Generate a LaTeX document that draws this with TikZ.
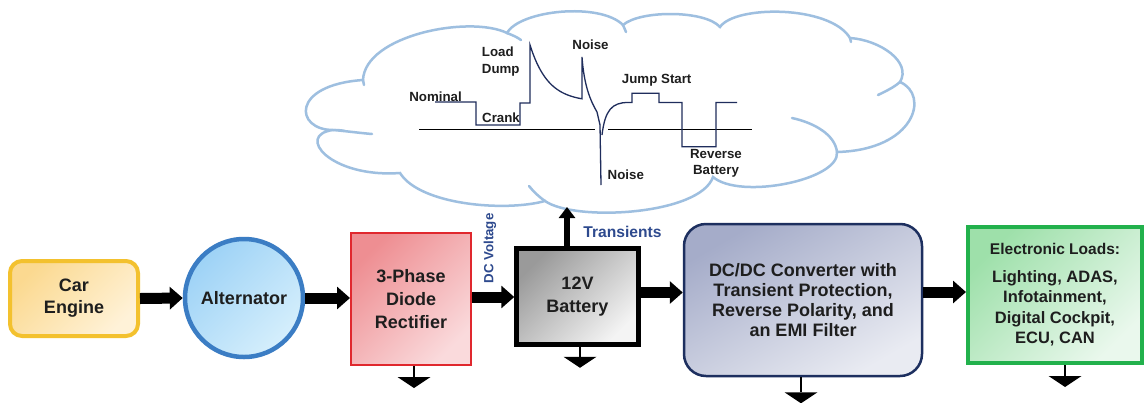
\documentclass[tikz,border=0pt]{standalone}
\usepackage{fontspec}
\setmainfont{Liberation Sans}
\usetikzlibrary{arrows.meta,calc}
\definecolor{txt}{HTML}{1E1E1E}
\definecolor{lblue}{HTML}{2E4A8E}
\definecolor{cloudc}{HTML}{9EBFE0}
\definecolor{wavec}{HTML}{1F2D5C}
\definecolor{engB}{HTML}{F3C12E}
\definecolor{engA}{HTML}{FBD990}
\definecolor{engC}{HTML}{FFF2D8}
\definecolor{altB}{HTML}{3B7DC4}
\definecolor{altA}{HTML}{9DD2F6}
\definecolor{altC}{HTML}{D6EFFC}
\definecolor{recB}{HTML}{E0282E}
\definecolor{recA}{HTML}{EE8E92}
\definecolor{recC}{HTML}{FADADC}
\definecolor{batA}{HTML}{9A9A9A}
\definecolor{batC}{HTML}{F4F4F4}
\definecolor{dcB}{HTML}{1D2F5F}
\definecolor{dcA}{HTML}{A5ACC9}
\definecolor{dcC}{HTML}{E9EBF2}
\definecolor{ldB}{HTML}{22B14C}
\definecolor{ldA}{HTML}{9EE0AA}
\definecolor{ldC}{HTML}{EAF8ED}
\tikzset{
  blk/.style={draw, align=center, inner sep=0pt, text=txt,
    font=\fontsize{18}{22}\selectfont\bfseries},
  bigarrow/.style={line width=11pt, -{Triangle[width=22pt,length=13pt]}},
  smallarrow/.style={line width=5.5pt, -{Triangle[width=16pt,length=11pt]}},
  cloudline/.style={draw=cloudc, line width=2.5pt, line cap=round},
  wave/.style={draw=wavec, line width=1.3pt, line join=miter},
  wlab/.style={inner sep=0pt, text=txt, font=\fontsize{13.3}{16.7}\selectfont\bfseries},
  blab/.style={inner sep=0pt, text=lblue, font=\fontsize{15.6}{18}\selectfont\bfseries},
  pics/gnd/.style={code={
    \draw[line width=2pt] (0,0) -- (0,#1);
    \fill (-16.5,#1) -- (16.5,#1) -- (0,#1+11) -- cycle;}}
}
\begin{document}
\begin{tikzpicture}[x=1pt,y=-1pt]
\useasboundingbox (0,0) rectangle (1145,402);
\fill[white] (0,0) rectangle (1145,402);

% cloud
\path[cloudline, fill=white]
  (333,130) .. controls (295,130) and (290,85) .. (363,80)
  .. controls (365,35) and (470,15) .. (507,33)
  .. controls (520,10) and (600,2) .. (623,25)
  .. controls (640,10) and (705,10) .. (720,27)
  .. controls (735,5) and (830,5) .. (850,38)
  .. controls (880,40) and (912,62) .. (900,82)
  .. controls (930,95) and (915,150) .. (837,152)
  .. controls (840,180) and (740,200) .. (713,177)
  .. controls (700,215) and (575,222) .. (545,201)
  .. controls (505,212) and (420,205) .. (400,173)
  .. controls (330,178) and (295,135) .. (333,130) -- cycle;
\draw[cloudline] (333,130) .. controls (345,131) and (360,133) .. (372,134);
\draw[cloudline] (507,33) .. controls (512,35) and (517,37) .. (521,40);
\draw[cloudline] (837,152) .. controls (835,135) and (815,123) .. (792,118);
\draw[cloudline] (900,82) .. controls (893,88) and (886,91) .. (878,95);
\draw[cloudline] (545,201) .. controls (538,196) and (533,191) .. (529,186);
\draw[cloudline] (623,25) -- (626,32);
\draw[cloudline] (850,38) -- (851,42);
\draw[cloudline] (363,80) -- (364,85);

% axis
\draw[line width=1.6pt] (419,129.3) -- (595,129.3);
\draw[line width=1.6pt] (608,129.3) -- (752,129.3);
% waveform
\draw[wave] (435,102) -- (476,102) -- (476,125) -- (520,125) -- (520,103) -- (530,103) -- (530,45)
  -- plot[domain=0:52, samples=40] ({530+\x},{102-57*exp(-\x/18)})
  -- (582,57) .. controls (584,85) and (590,100) .. (597,112) -- (600,125) -- (601,185);
\draw[wave] (602,135) .. controls (605,110) and (612,102.5) .. (628,102.5)
  -- (632,102.5) -- (632,93.3) -- (659,93.3) -- (659,102.5) -- (682,102.5)
  -- (682,146.7) -- (716,146.7) -- (716,102.5) -- (737,102.5);

% waveform labels
\node[wlab] (lnom) at (435.5,96.7) {Nominal};
\node[wlab, align=left, anchor=west] (lld) at (481.7,61.7) {Load\\Dump};
\node[wlab] (lcr) at (501,117.3) {Crank};
\node[wlab] (ln1) at (590.5,45) {Noise};
\node[wlab] (ljs) at (656.7,80) {Jump Start};
\node[wlab] (ln2) at (625.8,175) {Noise};
\node[wlab, align=center] (lrb) at (716,163.3) {Reverse\\Battery};

% blocks
\node[blk, draw=engB, line width=4pt, rounded corners=12pt, minimum width=128pt, minimum height=75pt,
  top color=engA, bottom color=engC, shading angle=45] (eng) at (74,298.5) {Car\\Engine};
\node[blk, circle, draw=altB, line width=4.5pt, minimum size=118pt,
  top color=altA, bottom color=altC, shading angle=45] (alt) at (244,298) {Alternator};
\node[blk, draw=recB, line width=2pt, minimum width=120pt, minimum height=132pt,
  font=\fontsize{18}{23}\selectfont\bfseries,
  top color=recA, bottom color=recC, shading angle=45] (rect) at (411,299) {3-Phase\\Diode\\Rectifier};
\node[blk, draw=black, line width=4.5pt, minimum width=122pt, minimum height=96pt,
  font=\fontsize{18}{23}\selectfont\bfseries,
  top color=batA, bottom color=batC, shading angle=45] (batt) at (577.5,296.5) {12V\\Battery};
\node[blk, draw=dcB, line width=2.5pt, rounded corners=22pt, minimum width=238pt, minimum height=152pt,
  font=\fontsize{18}{20}\selectfont\bfseries,
  top color=dcA, bottom color=dcC, shading angle=30] (dcdc) at (803,300)
  {DC/DC Converter with\\Transient Protection,\\Reverse Polarity, and\\an EMI Filter};
\node[blk, draw=ldB, line width=4pt, minimum width=174pt, minimum height=136pt,
  font=\fontsize{16.5}{20.5}\selectfont\bfseries,
  top color=ldA, bottom color=ldC, shading angle=45] (loads) at (1055,295)
  {{\fontsize{15.5}{18}\selectfont Electronic Loads:}\\[7pt]Lighting, ADAS,\\Infotainment,\\Digital Cockpit,\\ECU, CAN};

% arrows
\draw[bigarrow] (eng.east) -- (alt.west);
\draw[bigarrow] (alt.east) -- (alt.east -| rect.west);
\draw[bigarrow] ([yshift=2pt]rect.east) -- ([yshift=2pt]rect.east -| batt.west);
\draw[bigarrow] ([yshift=4pt]batt.east) -- ([yshift=4pt]batt.east -| dcdc.west);
\draw[bigarrow] ([yshift=8pt]dcdc.east) -- ([yshift=8pt]dcdc.east -| loads.west);
\coordinate (cloudin) at (567,207);
\draw[smallarrow] ([xshift=-10.5pt]batt.north) -- (cloudin);

% arrow labels
\node[blab] (ltr) at (622.5,232) {Transients};
\node[blab, rotate=90, font=\fontsize{13.3}{15}\selectfont\bfseries] (ldc) at (490,248.5) {DC Voltage};

% grounds
\pic at ([xshift=3pt]rect.south) {gnd=11};
\pic at ([xshift=2.5pt]batt.south) {gnd=10};
\pic at ([xshift=-2pt]dcdc.south) {gnd=15};
\pic at ([xshift=10pt]loads.south) {gnd=11};
\end{tikzpicture}
\end{document}
